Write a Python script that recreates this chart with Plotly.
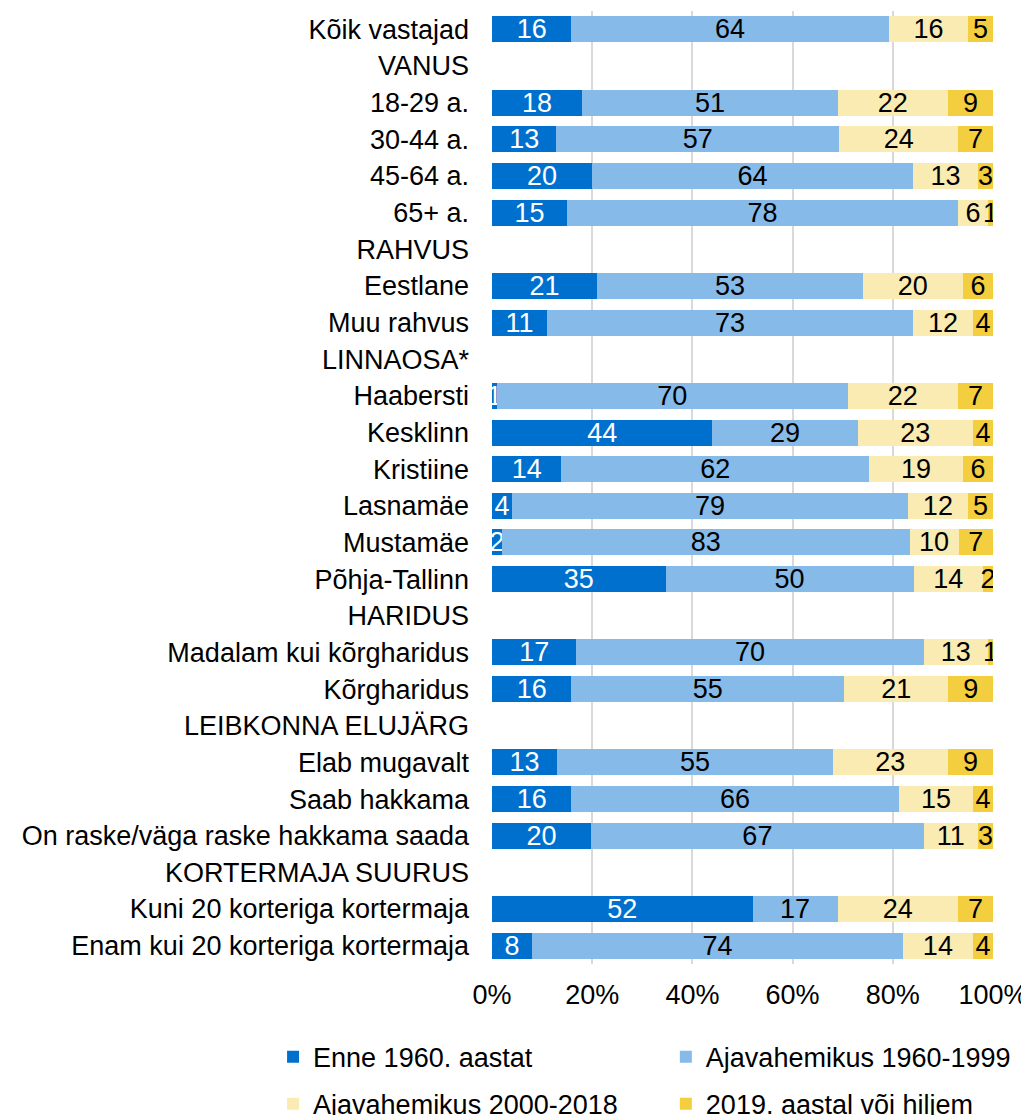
import plotly.graph_objects as go

categories = ["Kõik vastajad", "VANUS", "18-29 a.", "30-44 a.", "45-64 a.", "65+ a.",
              "RAHVUS", "Eestlane", "Muu rahvus", "LINNAOSA*", "Haabersti", "Kesklinn",
              "Kristiine", "Lasnamäe", "Mustamäe", "Põhja-Tallinn", "HARIDUS",
              "Madalam kui kõrgharidus", "Kõrgharidus", "LEIBKONNA ELUJÄRG",
              "Elab mugavalt", "Saab hakkama", "On raske/väga raske hakkama saada",
              "KORTERMAJA SUURUS", "Kuni 20 korteriga kortermaja",
              "Enam kui 20 korteriga kortermaja"]

enne_1960 = [16, None, 18, 13, 20, 15, None, 21, 11, None, 1, 44, 14, 4, 2, 35, None,
             17, 16, None, 13, 16, 20, None, 52, 8]
vahemik_1960_1999 = [64, None, 51, 57, 64, 78, None, 53, 73, None, 70, 29, 62, 79, 83, 50, None,
                     70, 55, None, 55, 66, 67, None, 17, 74]
vahemik_2000_2018 = [16, None, 22, 24, 13, 6, None, 20, 12, None, 22, 23, 19, 12, 10, 14, None,
                     13, 21, None, 23, 15, 11, None, 24, 14]
aastal_2019 = [5, None, 9, 7, 3, 1, None, 6, 4, None, 7, 4, 6, 5, 7, 2, None,
               1, 9, None, 9, 4, 3, None, 7, 4]

series_names = ["Enne 1960. aastat", "Ajavahemikus 1960-1999",
                "Ajavahemikus 2000-2018", "2019. aastal või hiljem"]
series_values = [enne_1960, vahemik_1960_1999, vahemik_2000_2018, aastal_2019]
colors = ["#0070CE", "#86BAE8", "#FAEBB3", "#F3CE3F"]
text_colors = ["white", "black", "black", "black"]
legend_ids = ["legend", "legend2", "legend", "legend2"]

tick_vals = [0, 20, 40, 60, 80, 100]
tick_text = ["0%", "20%", "40%", "60%", "80%", "100%"]

font_family = "Liberation Sans, Arial, sans-serif"
FS = 27

fig = go.Figure()
for i, (name, vals, col, tcol, lg) in enumerate(
        zip(series_names, series_values, colors, text_colors, legend_ids)):
    fig.add_trace(go.Bar(
        y=categories, x=vals, name=name, orientation="h",
        marker=dict(color=col, line=dict(width=0)),
        text=[("" if v is None else str(v)) for v in vals],
        texttemplate="%{text}",
        textposition="inside", insidetextanchor="middle", textangle=0,
        textfont=dict(color=tcol, size=FS, family=font_family),
        constraintext="none",
        legend=lg, legendgroup=f"g{i}",
        hoverinfo="skip",
    ))

legend_common = dict(orientation="v", xanchor="left", yanchor="top", y=-0.072,
                     font=dict(size=FS, color="black", family=font_family),
                     traceorder="grouped", tracegroupgap=9, bgcolor="rgba(0,0,0,0)")

fig.update_layout(
    barmode="stack", barnorm="percent", bargap=0.29,
    width=1021, height=1107,
    margin=dict(l=484, r=36, t=3, b=151, autoexpand=False),
    plot_bgcolor="white", paper_bgcolor="white",
    font=dict(family=font_family, size=FS, color="black"),
    uniformtext=dict(minsize=FS, mode="show"),
    legend=dict(x=-0.437, **legend_common),
    legend2=dict(x=0.347, **legend_common),
    showlegend=True,
)
fig.update_xaxes(range=[0, 100], tickvals=tick_vals, ticktext=tick_text,
                 showgrid=True, gridcolor="#D9D9D9", gridwidth=2,
                 zeroline=False, showline=False, ticks="", automargin=False,
                 tickfont=dict(size=FS, color="black"), ticklabelstandoff=12, fixedrange=True)
fig.update_yaxes(categoryorder="array", categoryarray=categories, autorange="reversed",
                 showgrid=False, showline=False, ticks="", automargin=False,
                 tickfont=dict(size=FS, color="black"), ticklabelstandoff=22, fixedrange=True)

fig.write_html("out.html")
